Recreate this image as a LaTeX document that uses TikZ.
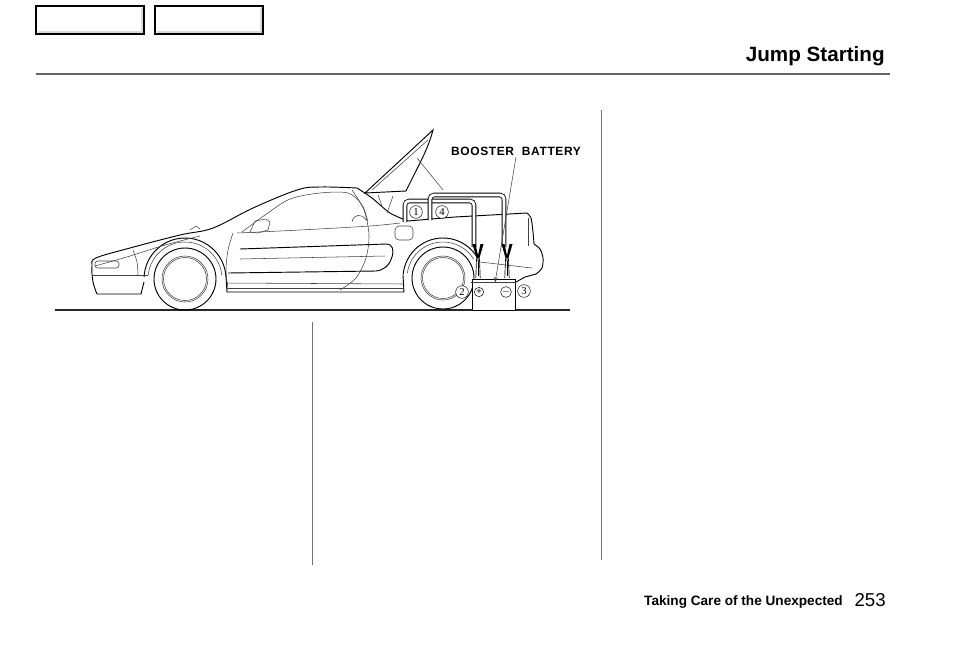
\documentclass[tikz,border=0pt]{standalone}
\usepackage{fontspec}
\setmainfont{Liberation Sans}
\newfontfamily\lblfont[LetterSpace=5]{Liberation Sans}
\newfontfamily\numfont{Liberation Serif}
\usetikzlibrary{arrows.meta}
\def\cableclamp(#1,#2){%
  \begin{scope}[shift={(#1,#2)}]
    \fill (-5.5,0) -- (-2.5,0) -- (0.8,15) -- (-1.2,15) -- cycle;
    \fill (5.5,0) -- (2.5,0) -- (-0.8,15) -- (1.2,15) -- cycle;
    \draw[line width=0.5pt] (-1.5,15) -- (-2.2,34);
    \draw[line width=0.5pt] (1.5,15) -- (2.2,34);
    \draw[line width=0.3pt] (0,17) -- (0,32);
    \draw[line width=0.4pt, fill=white] (0,15) circle (1.5);
  \end{scope}}

\begin{document}
\begin{tikzpicture}[x=0.75pt, y=-0.75pt,
    body/.style={line width=0.7pt},
    fine/.style={line width=0.4pt, color=black!75},
    cable/.style={double distance=2.2pt, line width=0.6pt, rounded corners=3pt},
    tabbox/.style={line width=1.7pt},
    pagerule/.style={line width=0.8pt, color=black!60},
    circnum/.style={circle, draw, fill=white, line width=0.35pt, inner sep=0pt, minimum size=9.5pt, font=\numfont\fontsize{8}{8}\selectfont}]
		%%%%% START %%%%%
		\useasboundingbox (0,0) rectangle (954,644);
		
		% header
		\draw[tabbox] (36,6) rectangle (144,34);
		\draw[line width=1pt, color=black!15] (38,32) -- (142,32) -- (142,8);
		\draw[tabbox] (155,6) rectangle (263,34);
		\draw[line width=1pt, color=black!15] (157,32) -- (261,32) -- (261,8);
		\node[font=\bfseries\fontsize{15.5}{18}\selectfont, anchor=base east, inner sep=0pt] (title) at (885,61) {Jump Starting};
		\draw[pagerule] (36,74) -- (890,74);
		
		% column rules
		\draw[line width=0.6pt, color=black!55] (601,110) -- (601,560);
		\draw[line width=0.6pt, color=black!55] (312,322) -- (312,565);
		
		% ground
		\draw[line width=1pt, color=black!85] (55,310) -- (570,310);
		
		% wheels
		\draw[body] (185,279) circle (31);
		\draw[fine] (185,279) circle (23);
		\draw[fine] (185,279) circle (21.5);
		\draw[body] (443,278) circle (31);
		\draw[fine] (443,278) circle (22);
		\draw[fine] (443,278) circle (20.5);
		\draw[body] (185,279) ++(183:41) arc (183:357:41);
		\draw[fine] (185,279) ++(186:37) arc (186:354:37);
		\draw[body] (443,278) ++(185:40) arc (185:330:40);
		\draw[fine] (443,278) ++(188:36) arc (188:328:36);
		
		% body
		\draw[body] plot[smooth, tension=0.6] coordinates {(97,294) (93,282) (92,266) (96,258) (130,248) (180,235) (213,228) (253,208) (297,190) (320,187) (357,188)};
		\draw[body] plot[smooth] coordinates {(357,188) (372,198) (390,213) (408,221)};
		\draw[body] (408,221) -- (455,217) -- (527,213);
		\draw[body] plot[smooth] coordinates {(527,213) (531,218) (533,232) (534,244)};
		\draw[body] plot[smooth] coordinates {(534,244) (540,249) (543,258) (542,268) (536,274)};
		\draw[body] (536,274) -- (525,277) -- (516,282);
		\draw[fine] (528,218) -- (528,246);
		\draw[fine] (480,262) -- (532,268);
		\draw[body] (97,294) -- (141,294) -- (144,282);
		\draw[body] (226,277) -- (227,292) -- (404,292) -- (403,275);
		\draw[fine] (226,283) -- (404,284);
		\draw[fine] (226,288) -- (404,288);
		\draw[fine] (93,275) -- (148,275);
		\draw[fine] plot[smooth] coordinates {(95,266) (130,256) (165,245) (200,236)};
		\draw[fine] plot[smooth] coordinates {(133,250) (137,262) (138,275)};
		\draw[fine, rounded corners=2pt] (95,261) rectangle (119,268);
		
		% windows and doors
		\draw[fine] plot[smooth] coordinates {(237,233) (300,230) (370,226) (400,223)};
		\draw[fine] plot[smooth] coordinates {(242,232) (265,215) (290,199) (320,193) (348,193) (362,205) (368,222)};
		\draw[fine] plot[smooth] coordinates {(233,233) (228,250) (226,270) (228,288)};
		\draw[fine] plot[smooth] coordinates {(352,190) (364,210) (369,235) (366,258) (356,278) (340,290)};
		\draw[body] (240,249) -- (386,244) .. controls (393,244) and (394,250) .. (392,257) .. controls (389,266) and (384,270) .. (376,271) -- (228,273);
		\draw[fine] (240,259) -- (385,256);
		\draw[fine] (250,232) -- (255,221) -- (266,219) -- (270,222) -- (268,230) -- (258,233) -- cycle;
		\draw[fine] (352,222) .. controls (353,214) and (362,213) .. (366,220);
		\draw[fine, rounded corners=3pt] (395,226) rectangle (413,240);
		\draw[fine] (200,229) -- (196,226) -- (190,230);
		
		% open hatch
		\draw[body, fill=white] (365,193) -- (433,130) .. controls (428,150) and (416,170) .. (406,191) -- cycle;
		\draw[fine] (372,190) -- (428,140);
		\draw[fine] (417,158) -- (443,190);
		\draw[fine] (378,195) -- (382,206);
		\draw[fine] (393,196) -- (387,213);
		
		% jumper cables
		\draw[cable] (405,222) -- (405,201) -- (474,201) -- (474,247);
		\draw[cable] (430,220) -- (430,195) -- (504,195) -- (504,247);
		\node[circnum] (post1) at (416,212) {1};
		\node[circnum] (post4) at (442,212) {4};
		
		% booster battery
		\draw[body, fill=white] (472,279) rectangle (515,310);
		\draw[fine] (471,282) -- (516,282);
		\cableclamp(478,244)
		\cableclamp(507,244)
		\node[circle, draw, line width=0.35pt, inner sep=0pt, minimum size=7pt, font=\fontsize{7}{7}\selectfont] (plusterm) at (479,292) {+};
		\node[circle, draw, line width=0.35pt, inner sep=0pt, minimum size=7pt, font=\fontsize{7}{7}\selectfont] (minusterm) at (506,292) {$-$};
		\node[circnum] (post2) at (462,292) {2};
		\node[circnum] (post3) at (524,291) {3};
		
		\node[font=\lblfont\bfseries\fontsize{9}{10}\selectfont, inner sep=1pt] (lbl) at (516,151) {BOOSTER\ \ BATTERY};
		\coordinate (battip) at (495,283);
		\draw[fine, -{Stealth[length=4.5pt, width=2.5pt]}] (lbl.south) -- (battip);
		
		% footer
		\node[font=\bfseries\fontsize{10.2}{12}\selectfont, anchor=base east, inner sep=0pt] (footsec) at (843,605) {Taking Care of the Unexpected};
		\node[font=\fontsize{14}{16}\selectfont, anchor=base east, inner sep=0pt] (pagenum) at (886,606) {253};
		%%%%% END %%%%%
	\end{tikzpicture}
\end{document}
